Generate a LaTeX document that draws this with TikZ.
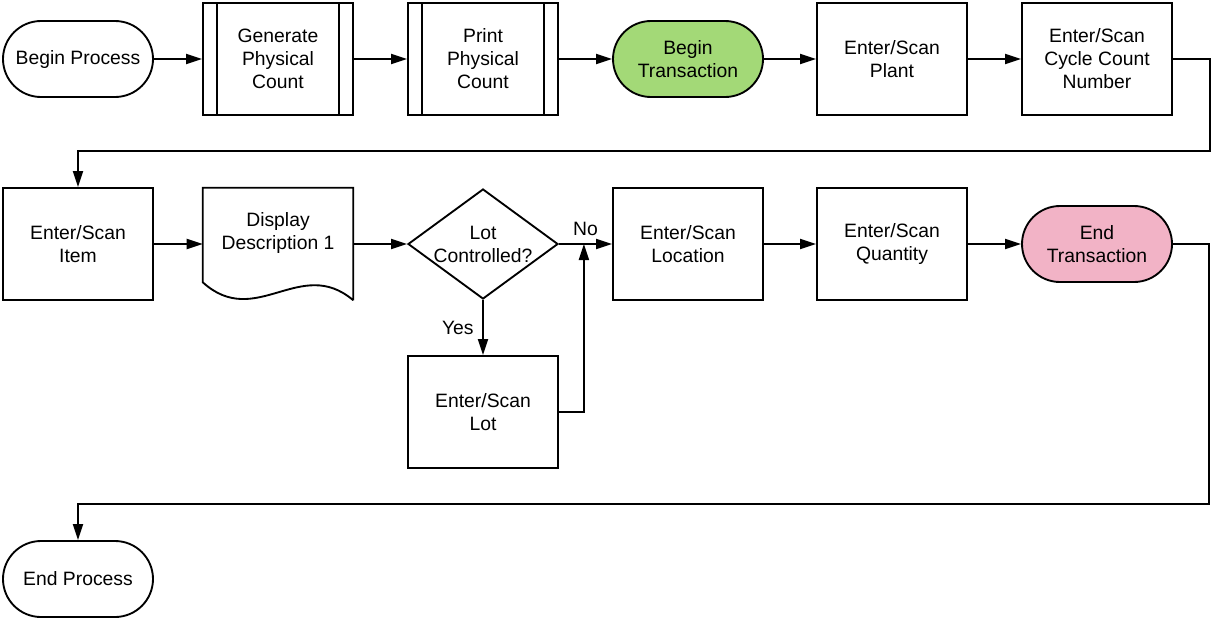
\documentclass[tikz,border=0pt]{standalone}
\usepackage{fontspec}
\setmainfont{Liberation Sans}
\usetikzlibrary{arrows.meta,shapes.geometric,shapes.misc,calc}
\definecolor{startgreen}{HTML}{A3D977}
\definecolor{endpink}{HTML}{F2B3C6}
\tikzset{every node/.append style={font=\fontsize{14.5}{17.3}\selectfont,align=center}}
\tikzset{
  terminal/.style={draw,rounded rectangle,line width=1.4pt,minimum width=112.5pt,minimum height=57pt,inner sep=0pt},
  procbox/.style={draw,rectangle,line width=1.4pt,minimum width=112.5pt,minimum height=84pt,inner sep=0pt},
  decision/.style={draw,diamond,line width=1.4pt,minimum width=112.5pt,minimum height=82.5pt,inner sep=0pt},
  docbox/.style={rectangle,minimum width=112.5pt,minimum height=84pt,inner sep=0pt},
  flow/.style={line width=1.4pt,-{Triangle[length=12pt,width=7.5pt]}},
}

\begin{document}
\begin{tikzpicture}[x=0.75pt,y=-0.75pt]
            \useasboundingbox (0,0) rectangle (1212,618);% page size of the reference
            % first row
            \node[terminal] (bp) at (78,59) {Begin Process};
            \node[procbox] (gen) at (278,59) {Generate\\Physical\\Count};
            \node[procbox] (prt) at (483,59) {Print\\Physical\\Count};
            \node[terminal,fill=startgreen] (btr) at (688,59) {Begin\\Transaction};
            \node[procbox] (plant) at (892,59) {Enter/Scan\\Plant};
            \node[procbox] (cyc) at (1097,59) {Enter/Scan\\Cycle Count\\Number};
            % second row
            \node[procbox] (item) at (78,244) {Enter/Scan\\Item};
            \node[docbox] (disp) at (278,244) {};% outline drawn below
            \node (disptxt) at ($(disp)+(0,-11)$) {Display\\Description 1};
            \node[decision] (lot) at (483,244) {};
            \node (lottxt) at (lot) {Lot\\Controlled?};
            \node[procbox] (loc) at (688,244) {Enter/Scan\\Location};
            \node[procbox] (qty) at (892,244) {Enter/Scan\\Quantity};
            \node[terminal,fill=endpink] (etr) at (1097,244) {End\\Transaction};
            \node[procbox] (lotscan) at (483,412) {Enter/Scan\\Lot};
            \node[terminal] (ep) at (78,579) {End Process};
            % side bars of the predefined processes
            \foreach \n in {gen,prt}
                \draw[line width=1.4pt] ([xshift=11.25pt]\n.north west) -- ([xshift=11.25pt]\n.south west)
                    ([xshift=-11.25pt]\n.north east) -- ([xshift=-11.25pt]\n.south east);
            % document outline with wavy bottom
            \draw[line width=1.4pt] (disp.south east) -- (disp.north east) -- (disp.north west)
                -- ([yshift=13.5pt]disp.south west)
                .. controls +(53,48) and +(-53,-45) .. (disp.south east);
            % connectors
            \draw[flow] (bp) -- (gen);
            \draw[flow] (gen) -- (prt);
            \draw[flow] (prt) -- (btr);
            \draw[flow] (btr) -- (plant);
            \draw[flow] (plant) -- (cyc);
            \coordinate (r1) at (1210,151);% return to second row
            \draw[flow] (cyc.east) -| (r1) -| (item.north);
            \draw[flow] (item.east) -- (disp.west);
            \draw[flow] (disp.east) -- (lot.west);
            \draw[flow] (lot.east) -- node[above=2pt]{No} (loc.west);
            \draw[flow] (lot.south) -- node[left=3pt]{Yes} (lotscan.north);
            \coordinate (jn) at ($(lot.east)!0.47!(loc.west)$);% merge point
            \draw[flow] (lotscan.east) -| (jn);
            \draw[flow] (loc) -- (qty);
            \draw[flow] (qty) -- (etr);
            \coordinate (r2) at (1209,504);% return to end
            \draw[flow] (etr.east) -| (r2) -| (ep.north);
        \end{tikzpicture}
\end{document}
